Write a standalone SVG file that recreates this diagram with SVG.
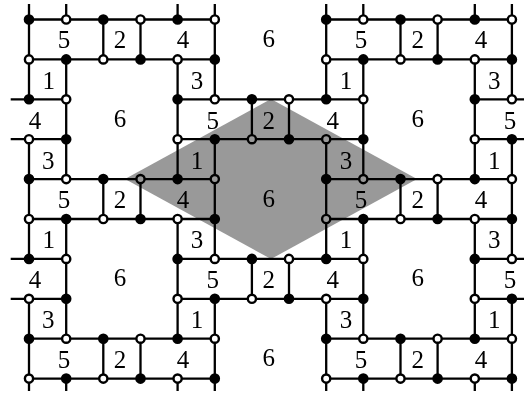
<svg xmlns="http://www.w3.org/2000/svg" width="524" height="394" viewBox="0 0 524 394">
<style>
.e{fill:none;stroke:#000;stroke-width:2.3}
.b{fill:#000;stroke:#000;stroke-width:2.4}
.w{fill:#fff;stroke:#000;stroke-width:2.4}
circle{r:4.1px}
text{font-family:"Liberation Serif","Times New Roman",serif;font-size:25px;fill:#000;text-anchor:middle}
.shade{fill:#999;mix-blend-mode:multiply}
</style>
<rect width="524" height="394" fill="#fff"/>
<g id="connectors" class="e">
<path d="M29 19.5H214.8M326.2 19.5H511.9M29 59.4H214.8M326.2 59.4H511.9M29 179.1H214.8M326.2 179.1H511.9M29 219H214.8M326.2 219H511.9M29 338.7H214.8M326.2 338.7H511.9M29 378.6H214.8M326.2 378.6H511.9"/>
<path d="M10.7 99.3H66.2M177.6 99.3H363.3M474.8 99.3H524M10.7 139.2H66.2M177.6 139.2H363.3M474.8 139.2H524M10.7 258.9H66.2M177.6 258.9H363.3M474.8 258.9H524M10.7 298.8H66.2M177.6 298.8H363.3M474.8 298.8H524"/>
<path d="M29 4V99.3M29 139.2V258.9M29 298.8V391M214.8 4V99.3M214.8 139.2V258.9M214.8 298.8V391M326.2 4V99.3M326.2 139.2V258.9M326.2 298.8V391M511.9 4V99.3M511.9 139.2V258.9M511.9 298.8V391"/>
<path d="M66.2 4V19.5M66.2 59.4V179.1M66.2 219V338.7M66.2 378.6V391M177.6 4V19.5M177.6 59.4V179.1M177.6 219V338.7M177.6 378.6V391M363.3 4V19.5M363.3 59.4V179.1M363.3 219V338.7M363.3 378.6V391M474.8 4V19.5M474.8 59.4V179.1M474.8 219V338.7M474.8 378.6V391"/>
<path d="M103.3 19.5V59.4M103.3 179.1V219M103.3 338.7V378.6M140.5 19.5V59.4M140.5 179.1V219M140.5 338.7V378.6M400.5 19.5V59.4M400.5 179.1V219M400.5 338.7V378.6M437.6 19.5V59.4M437.6 179.1V219M437.6 338.7V378.6"/>
<path d="M251.9 99.3V139.2M251.9 258.9V298.8M289 99.3V139.2M289 258.9V298.8"/>
</g>
<g id="nodes">
<g id="n0-0"><circle class="b" cx="29" cy="19.5"/></g><g id="n0-1"><circle class="w" cx="66.2" cy="19.5"/></g><g id="n0-2"><circle class="b" cx="103.3" cy="19.5"/></g><g id="n0-3"><circle class="w" cx="140.5" cy="19.5"/></g><g id="n0-4"><circle class="b" cx="177.6" cy="19.5"/></g><g id="n0-5"><circle class="w" cx="214.8" cy="19.5"/></g><g id="n0-8"><circle class="b" cx="326.2" cy="19.5"/></g><g id="n0-9"><circle class="w" cx="363.3" cy="19.5"/></g><g id="n0-10"><circle class="b" cx="400.5" cy="19.5"/></g><g id="n0-11"><circle class="w" cx="437.6" cy="19.5"/></g><g id="n0-12"><circle class="b" cx="474.8" cy="19.5"/></g><g id="n0-13"><circle class="w" cx="511.9" cy="19.5"/></g>
<g id="n1-0"><circle class="w" cx="29" cy="59.4"/></g><g id="n1-1"><circle class="b" cx="66.2" cy="59.4"/></g><g id="n1-2"><circle class="w" cx="103.3" cy="59.4"/></g><g id="n1-3"><circle class="b" cx="140.5" cy="59.4"/></g><g id="n1-4"><circle class="w" cx="177.6" cy="59.4"/></g><g id="n1-5"><circle class="b" cx="214.8" cy="59.4"/></g><g id="n1-8"><circle class="w" cx="326.2" cy="59.4"/></g><g id="n1-9"><circle class="b" cx="363.3" cy="59.4"/></g><g id="n1-10"><circle class="w" cx="400.5" cy="59.4"/></g><g id="n1-11"><circle class="b" cx="437.6" cy="59.4"/></g><g id="n1-12"><circle class="w" cx="474.8" cy="59.4"/></g><g id="n1-13"><circle class="b" cx="511.9" cy="59.4"/></g>
<g id="n2-0"><circle class="b" cx="29" cy="99.3"/></g><g id="n2-1"><circle class="w" cx="66.2" cy="99.3"/></g><g id="n2-4"><circle class="b" cx="177.6" cy="99.3"/></g><g id="n2-5"><circle class="w" cx="214.8" cy="99.3"/></g><g id="n2-6"><circle class="b" cx="251.9" cy="99.3"/></g><g id="n2-7"><circle class="w" cx="289" cy="99.3"/></g><g id="n2-8"><circle class="b" cx="326.2" cy="99.3"/></g><g id="n2-9"><circle class="w" cx="363.3" cy="99.3"/></g><g id="n2-12"><circle class="b" cx="474.8" cy="99.3"/></g><g id="n2-13"><circle class="w" cx="511.9" cy="99.3"/></g>
<g id="n3-0"><circle class="w" cx="29" cy="139.2"/></g><g id="n3-1"><circle class="b" cx="66.2" cy="139.2"/></g><g id="n3-4"><circle class="w" cx="177.6" cy="139.2"/></g><g id="n3-5"><circle class="b" cx="214.8" cy="139.2"/></g><g id="n3-6"><circle class="w" cx="251.9" cy="139.2"/></g><g id="n3-7"><circle class="b" cx="289" cy="139.2"/></g><g id="n3-8"><circle class="w" cx="326.2" cy="139.2"/></g><g id="n3-9"><circle class="b" cx="363.3" cy="139.2"/></g><g id="n3-12"><circle class="w" cx="474.8" cy="139.2"/></g><g id="n3-13"><circle class="b" cx="511.9" cy="139.2"/></g>
<g id="n4-0"><circle class="b" cx="29" cy="179.1"/></g><g id="n4-1"><circle class="w" cx="66.2" cy="179.1"/></g><g id="n4-2"><circle class="b" cx="103.3" cy="179.1"/></g><g id="n4-3"><circle class="w" cx="140.5" cy="179.1"/></g><g id="n4-4"><circle class="b" cx="177.6" cy="179.1"/></g><g id="n4-5"><circle class="w" cx="214.8" cy="179.1"/></g><g id="n4-8"><circle class="b" cx="326.2" cy="179.1"/></g><g id="n4-9"><circle class="w" cx="363.3" cy="179.1"/></g><g id="n4-10"><circle class="b" cx="400.5" cy="179.1"/></g><g id="n4-11"><circle class="w" cx="437.6" cy="179.1"/></g><g id="n4-12"><circle class="b" cx="474.8" cy="179.1"/></g><g id="n4-13"><circle class="w" cx="511.9" cy="179.1"/></g>
<g id="n5-0"><circle class="w" cx="29" cy="219"/></g><g id="n5-1"><circle class="b" cx="66.2" cy="219"/></g><g id="n5-2"><circle class="w" cx="103.3" cy="219"/></g><g id="n5-3"><circle class="b" cx="140.5" cy="219"/></g><g id="n5-4"><circle class="w" cx="177.6" cy="219"/></g><g id="n5-5"><circle class="b" cx="214.8" cy="219"/></g><g id="n5-8"><circle class="w" cx="326.2" cy="219"/></g><g id="n5-9"><circle class="b" cx="363.3" cy="219"/></g><g id="n5-10"><circle class="w" cx="400.5" cy="219"/></g><g id="n5-11"><circle class="b" cx="437.6" cy="219"/></g><g id="n5-12"><circle class="w" cx="474.8" cy="219"/></g><g id="n5-13"><circle class="b" cx="511.9" cy="219"/></g>
<g id="n6-0"><circle class="b" cx="29" cy="258.9"/></g><g id="n6-1"><circle class="w" cx="66.2" cy="258.9"/></g><g id="n6-4"><circle class="b" cx="177.6" cy="258.9"/></g><g id="n6-5"><circle class="w" cx="214.8" cy="258.9"/></g><g id="n6-6"><circle class="b" cx="251.9" cy="258.9"/></g><g id="n6-7"><circle class="w" cx="289" cy="258.9"/></g><g id="n6-8"><circle class="b" cx="326.2" cy="258.9"/></g><g id="n6-9"><circle class="w" cx="363.3" cy="258.9"/></g><g id="n6-12"><circle class="b" cx="474.8" cy="258.9"/></g><g id="n6-13"><circle class="w" cx="511.9" cy="258.9"/></g>
<g id="n7-0"><circle class="w" cx="29" cy="298.8"/></g><g id="n7-1"><circle class="b" cx="66.2" cy="298.8"/></g><g id="n7-4"><circle class="w" cx="177.6" cy="298.8"/></g><g id="n7-5"><circle class="b" cx="214.8" cy="298.8"/></g><g id="n7-6"><circle class="w" cx="251.9" cy="298.8"/></g><g id="n7-7"><circle class="b" cx="289" cy="298.8"/></g><g id="n7-8"><circle class="w" cx="326.2" cy="298.8"/></g><g id="n7-9"><circle class="b" cx="363.3" cy="298.8"/></g><g id="n7-12"><circle class="w" cx="474.8" cy="298.8"/></g><g id="n7-13"><circle class="b" cx="511.9" cy="298.8"/></g>
<g id="n8-0"><circle class="b" cx="29" cy="338.7"/></g><g id="n8-1"><circle class="w" cx="66.2" cy="338.7"/></g><g id="n8-2"><circle class="b" cx="103.3" cy="338.7"/></g><g id="n8-3"><circle class="w" cx="140.5" cy="338.7"/></g><g id="n8-4"><circle class="b" cx="177.6" cy="338.7"/></g><g id="n8-5"><circle class="w" cx="214.8" cy="338.7"/></g><g id="n8-8"><circle class="b" cx="326.2" cy="338.7"/></g><g id="n8-9"><circle class="w" cx="363.3" cy="338.7"/></g><g id="n8-10"><circle class="b" cx="400.5" cy="338.7"/></g><g id="n8-11"><circle class="w" cx="437.6" cy="338.7"/></g><g id="n8-12"><circle class="b" cx="474.8" cy="338.7"/></g><g id="n8-13"><circle class="w" cx="511.9" cy="338.7"/></g>
<g id="n9-0"><circle class="w" cx="29" cy="378.6"/></g><g id="n9-1"><circle class="b" cx="66.2" cy="378.6"/></g><g id="n9-2"><circle class="w" cx="103.3" cy="378.6"/></g><g id="n9-3"><circle class="b" cx="140.5" cy="378.6"/></g><g id="n9-4"><circle class="w" cx="177.6" cy="378.6"/></g><g id="n9-5"><circle class="b" cx="214.8" cy="378.6"/></g><g id="n9-8"><circle class="w" cx="326.2" cy="378.6"/></g><g id="n9-9"><circle class="b" cx="363.3" cy="378.6"/></g><g id="n9-10"><circle class="w" cx="400.5" cy="378.6"/></g><g id="n9-11"><circle class="b" cx="437.6" cy="378.6"/></g><g id="n9-12"><circle class="w" cx="474.8" cy="378.6"/></g><g id="n9-13"><circle class="b" cx="511.9" cy="378.6"/></g>
</g>
<g id="labels">
<text x="64" y="48">5</text><text x="120" y="48">2</text><text x="183" y="48">4</text><text x="268.7" y="47">6</text><text x="361" y="48">5</text><text x="417.7" y="48">2</text><text x="481" y="48">4</text>
<text x="48.7" y="89">1</text><text x="197" y="89">3</text><text x="346" y="89">1</text><text x="494.3" y="89">3</text>
<text x="35" y="129">4</text><text x="120" y="127">6</text><text x="212.7" y="129">5</text><text x="268.7" y="129">2</text><text x="332.7" y="129">4</text><text x="417.7" y="127">6</text><text x="510" y="129">5</text>
<text x="48.3" y="169">3</text><text x="197" y="169">1</text><text x="346" y="169">3</text><text x="494.3" y="169">1</text>
<text x="64" y="208">5</text><text x="120" y="208">2</text><text x="183" y="208">4</text><text x="268.7" y="207">6</text><text x="361" y="208">5</text><text x="417.7" y="208">2</text><text x="481" y="208">4</text>
<text x="48.7" y="248">1</text><text x="197" y="248">3</text><text x="346" y="248">1</text><text x="494.3" y="248">3</text>
<text x="35" y="288">4</text><text x="120" y="286">6</text><text x="212.7" y="288">5</text><text x="268.7" y="288">2</text><text x="332.7" y="288">4</text><text x="417.7" y="286">6</text><text x="510" y="288">5</text>
<text x="48.3" y="328">3</text><text x="197" y="328">1</text><text x="346" y="328">3</text><text x="494.3" y="328">1</text>
<text x="64" y="368">5</text><text x="120" y="368">2</text><text x="183" y="368">4</text><text x="268.7" y="366">6</text><text x="361" y="368">5</text><text x="417.7" y="368">2</text><text x="481" y="368">4</text>
</g>
<polygon class="shade" points="271,99 417,179 271,259 125,179"/>
</svg>
